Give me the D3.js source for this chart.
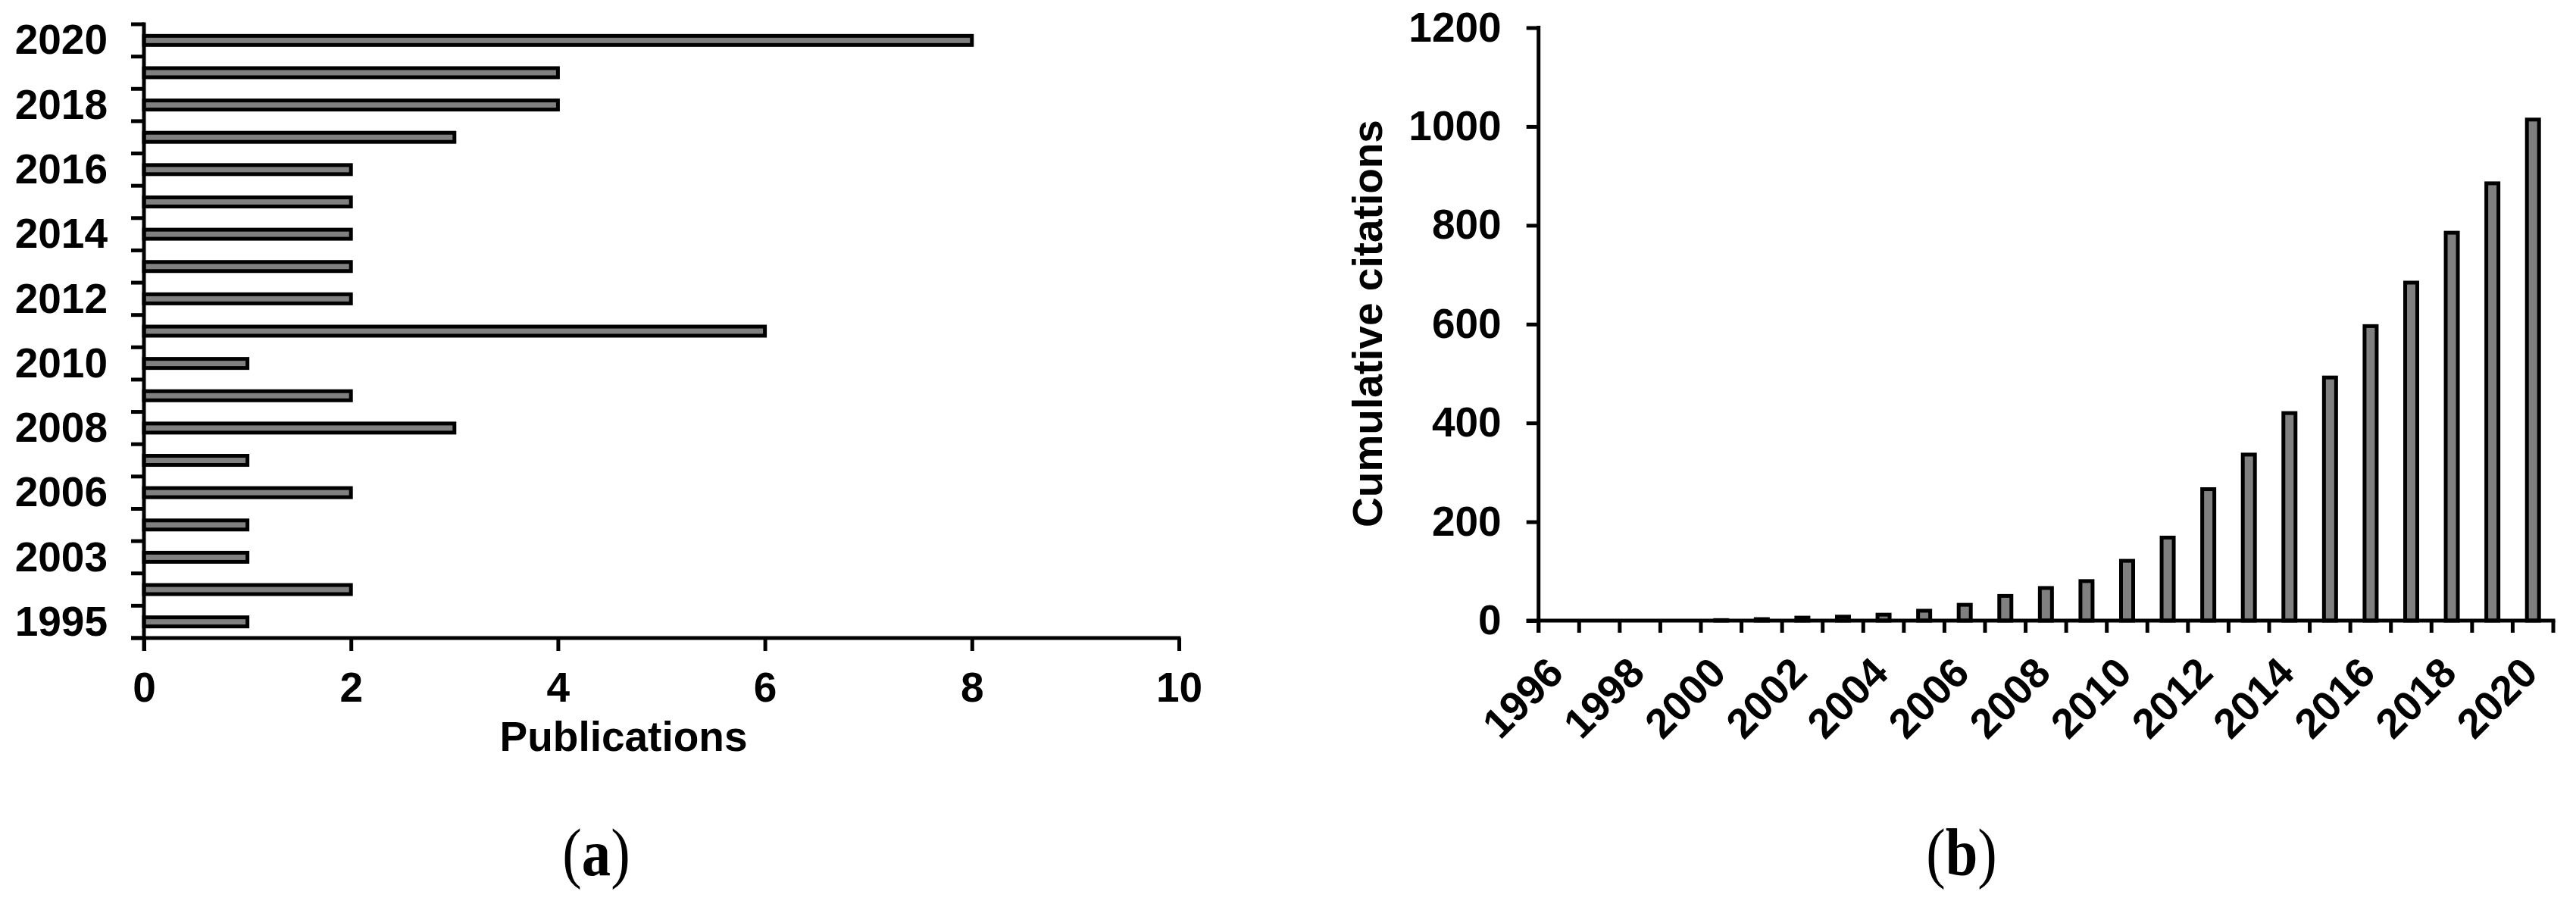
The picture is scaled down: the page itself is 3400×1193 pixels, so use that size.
<!DOCTYPE html>
<html>
<head>
<meta charset="utf-8">
<script src="https://cdn.jsdelivr.net/npm/d3@7"></script>
<style>
  html, body { margin: 0; padding: 0; background: #fff; }
  svg { display: block; }
  text { font-family: "Liberation Sans", Arial, sans-serif; font-weight: bold; fill: #000; }
  .cap { font-family: "Liberation Serif", "Times New Roman", serif; font-weight: normal; }
</style>
</head>
<body>
<svg id="fig" width="3400" height="1193"></svg>
<script>
// ---------- Data ----------
// (a) Publications per year, listed top to bottom
const pubYears  = ["2020","2019","2018","2017","2016","2015","2014","2013","2012","2011",
                   "2010","2009","2008","2007","2006","2005","2003","2001","1995"];
const pubCounts = [8,4,4,3,2,2,2,2,2,6,1,2,3,1,2,1,1,2,1];
const pubTicks  = [0,2,4,6,8,10];

// (b) Cumulative citations per year
const citYears  = ["1996","1997","1998","1999","2000","2001","2002","2003","2004","2005","2006","2007",
                   "2008","2009","2010","2011","2012","2013","2014","2015","2016","2017","2018","2019","2020"];
const citValues = [0,0,0,0,1,3,6,8,12,20,32,50,66,80,121,168,266,336,420,492,596,684,785,885,1014];
const citTicks  = [0,200,400,600,800,1000,1200];

const svg = d3.select("#fig");
const FS = 55;
const AXW = 5;

// ================= Chart (a) =================
const a = svg.append("g");
const yA = d3.scaleBand().domain(pubYears).range([32, 842]).paddingInner(0).paddingOuter(0);
const xA = d3.scaleLinear().domain([0, 10]).range([190, 1556]);
const barHA = 12;

a.selectAll("rect.bar").data(pubYears).enter().append("rect")
  .attr("x", xA(0))
  .attr("y", d => yA(d) + (yA.bandwidth() - barHA) / 2)
  .attr("width", (d, i) => xA(pubCounts[i]) - xA(0))
  .attr("height", barHA)
  .attr("fill", "#808080").attr("stroke", "#000").attr("stroke-width", AXW);

// category boundary ticks
const boundsA = pubYears.map(d => yA(d)).concat([yA.range()[1]]);
a.selectAll("line.ytick").data(boundsA).enter().append("line")
  .attr("x1", xA(0) - 17).attr("x2", xA(0))
  .attr("y1", d => d).attr("y2", d => d)
  .attr("stroke", "#000").attr("stroke-width", AXW);

// y labels (every other category)
const yAxisA = d3.axisLeft(yA).tickSize(0).tickPadding(48)
  .tickFormat((d, i) => i % 2 === 0 ? d : "");
const gYA = a.append("g").attr("transform", `translate(${xA(0)},0)`).call(yAxisA);
gYA.select(".domain").remove();
gYA.selectAll("text").style("font-size", FS + "px").attr("dy", "0.33em")
   .style("font-family", "'Liberation Sans', Arial, sans-serif").style("font-weight", "bold");

// y axis line
a.append("line").attr("x1", xA(0)).attr("x2", xA(0)).attr("y1", 32 - 2.5).attr("y2", 859)
  .attr("stroke", "#000").attr("stroke-width", AXW);

// x axis
const xAxisA = d3.axisBottom(xA).tickValues(pubTicks).tickSize(17).tickPadding(28).tickSizeOuter(0)
  .tickFormat(d3.format("d"));
const gXA = a.append("g").attr("transform", "translate(0,842)").call(xAxisA);
gXA.select(".domain").remove();
gXA.selectAll(".tick line").attr("stroke", "#000").attr("stroke-width", AXW);
gXA.selectAll("text").style("font-size", FS + "px")
   .style("font-family", "'Liberation Sans', Arial, sans-serif").style("font-weight", "bold");
a.append("line").attr("x1", xA(0) - 17).attr("x2", xA(10) + 2.5).attr("y1", 842).attr("y2", 842)
  .attr("stroke", "#000").attr("stroke-width", AXW);

a.append("text").attr("x", 823).attr("y", 991).attr("text-anchor", "middle")
  .style("font-size", FS + "px").text("Publications");

// ================= Chart (b) =================
const b = svg.append("g");
const xB = d3.scaleBand().domain(citYears).range([2030.7, 3370]).paddingInner(0).paddingOuter(0);
const yB = d3.scaleLinear().domain([0, 1200]).range([819, 36.5]);
const barWB = 16;

b.selectAll("rect.bar").data(citYears.filter((d, i) => citValues[i] > 0)).enter().append("rect")
  .attr("x", d => xB(d) + (xB.bandwidth() - barWB) / 2)
  .attr("y", d => yB(citValues[citYears.indexOf(d)]))
  .attr("width", barWB)
  .attr("height", d => yB(0) - yB(citValues[citYears.indexOf(d)]))
  .attr("fill", "#808080").attr("stroke", "#000").attr("stroke-width", AXW);

// y axis
const yAxisB = d3.axisLeft(yB).tickValues(citTicks).tickSize(16).tickPadding(33).tickSizeOuter(0)
  .tickFormat(d3.format("d"));
const gYB = b.append("g").attr("transform", `translate(${xB.range()[0]},0)`).call(yAxisB);
gYB.select(".domain").remove();
gYB.selectAll(".tick line").attr("stroke", "#000").attr("stroke-width", AXW);
gYB.selectAll("text").style("font-size", FS + "px")
   .style("font-family", "'Liberation Sans', Arial, sans-serif").style("font-weight", "bold");
b.append("line").attr("x1", xB.range()[0]).attr("x2", xB.range()[0])
  .attr("y1", yB(1200) - 2.5).attr("y2", 835)
  .attr("stroke", "#000").attr("stroke-width", AXW);

// x axis line and boundary ticks
b.append("line").attr("x1", xB.range()[0] - 16).attr("x2", xB.range()[1] + 2.5)
  .attr("y1", yB(0)).attr("y2", yB(0)).attr("stroke", "#000").attr("stroke-width", AXW);
const boundsB = citYears.map(d => xB(d)).concat([xB.range()[1]]);
b.selectAll("line.xtick").data(boundsB).enter().append("line")
  .attr("x1", d => d).attr("x2", d => d)
  .attr("y1", yB(0)).attr("y2", yB(0) + 16)
  .attr("stroke", "#000").attr("stroke-width", AXW);

// rotated x labels (every other year)
b.selectAll("text.xl").data(citYears.filter((d, i) => i % 2 === 0)).enter().append("text")
  .attr("transform", d => `translate(${xB(d) + xB.bandwidth() / 2 + 9},891) rotate(-45)`)
  .attr("text-anchor", "end")
  .style("font-size", FS + "px")
  .text(d => d);

b.append("text").attr("transform", "translate(1824,427) rotate(-90)")
  .attr("text-anchor", "middle").style("font-size", FS + "px").text("Cumulative citations");

// ================= Captions =================
function caption(x, letter) {
  const t = svg.append("text").attr("class", "cap")
    .attr("transform", `translate(${x},1155) scale(0.87,1)`)
    .attr("text-anchor", "middle").style("font-size", "88px");
  t.append("tspan").style("font-weight", "normal").text("(");
  t.append("tspan").style("font-weight", "bold").text(letter);
  t.append("tspan").style("font-weight", "normal").text(")");
}
caption(787, "a");
caption(2589, "b");
</script>
</body>
</html>
